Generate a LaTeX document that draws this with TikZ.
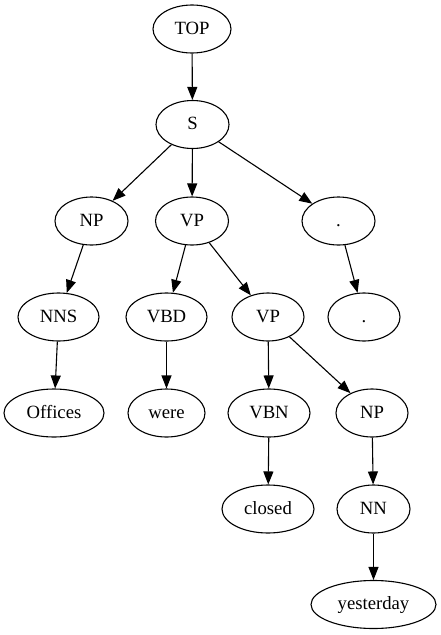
\documentclass[tikz,border=0pt]{standalone}
\usepackage{fontspec}
\setmainfont{Liberation Serif}
\usetikzlibrary{shapes.geometric,arrows.meta}
\begin{document}
\begin{tikzpicture}[x=1pt,y=-1pt,
  tn/.style={draw,ellipse,line width=1.1pt,minimum height=48pt,minimum width=73pt,inner sep=0pt,text height=13pt,text depth=2.4pt,font=\fontsize{18.7}{22}\selectfont},
  edge/.style={line width=1.1pt,-{Triangle[length=13pt,width=10pt]}}]
\useasboundingbox (0,0) rectangle (440,635);
\node[tn,minimum width=78pt] (top) at (192,29) {TOP};
\node[tn] (s) at (192.5,124.5) {S};
\node[tn] (np1) at (91.5,221) {NP};
\node[tn] (vp1) at (192,221) {VP};
\node[tn] (dot1) at (338.5,221) {.};
\node[tn,minimum width=81pt] (nns) at (58.5,317) {NNS};
\node[tn,minimum width=81pt] (vbd) at (166.5,317) {VBD};
\node[tn,minimum width=72pt] (vp2) at (268,317) {VP};
\node[tn,minimum width=72pt] (dot2) at (364,317) {.};
\node[tn,minimum width=100pt] (offices) at (54,413) {Offices};
\node[tn,minimum width=77pt] (were) at (166.5,413) {were};
\node[tn,minimum width=82pt] (vbn) at (269,413) {VBN};
\node[tn,minimum width=72pt] (np2) at (372,413) {NP};
\node[tn,minimum width=92pt] (closed) at (268,509) {closed};
\node[tn] (nn) at (373.5,509) {NN};
\node[tn,minimum width=125pt] (yest) at (373.5,604.5) {yesterday};
\draw[edge] (top) -- (s);
\draw[edge] (s) -- (np1);
\draw[edge] (s) -- (vp1);
\draw[edge] (s) -- (dot1);
\draw[edge] (np1) -- (nns);
\draw[edge] (vp1) -- (vbd);
\draw[edge] (vp1) -- (vp2);
\draw[edge] (dot1) -- (dot2);
\draw[edge] (nns) -- (offices);
\draw[edge] (vbd) -- (were);
\draw[edge] (vp2) -- (vbn);
\draw[edge] (vp2) -- (np2);
\draw[edge] (vbn) -- (closed);
\draw[edge] (np2) -- (nn);
\draw[edge] (nn) -- (yest);
\end{tikzpicture}
\end{document}
